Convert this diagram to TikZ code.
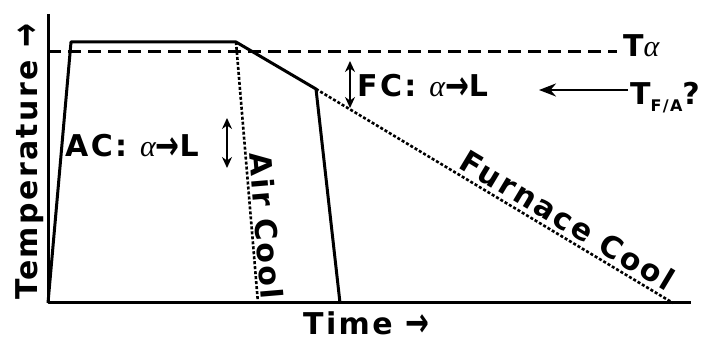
\documentclass[tikz,border=0pt]{standalone}
\usepackage{graphicx}
\usepackage{fontspec}
\setmainfont{DejaVu Sans}
\newfontfamily\lblfont[LetterSpace=8]{DejaVu Sans}
\newfontfamily\greekfont{Liberation Serif}
\usetikzlibrary{arrows.meta}
\newcommand{\alf}{{\greekfont\itshape\mdseries α}}
\newcommand{\rarr}{\raisebox{-2.5pt}{\scalebox{0.95}[1.35]{→}}}
\tikzset{
  curve/.style={line width=3pt,line join=round},
  quench/.style={line width=2.6pt,dash pattern=on 3pt off 2pt},
  transus/.style={line width=3pt,dash pattern=on 13pt off 7pt},
  big/.style={font=\lblfont\bfseries\fontsize{30}{36}\selectfont,inner sep=0pt},
  twoway/.style={line width=2.5pt,>={Stealth[length=11pt,width=10pt]},<->},
  pointer/.style={line width=2.5pt,-{Stealth[length=17pt,width=13pt]}}
}

\begin{document}
\begin{tikzpicture}[x=1pt,y=1pt]
  \useasboundingbox (0,0) rectangle (709,342);
  % axes
  \coordinate (o) at (48,39);
  \coordinate (ytop) at (48,328);
  \coordinate (xend) at (691,39);
  \draw[curve] (ytop) -- (o) -- (xend);
  \node[big,anchor=base west] (timelbl) at (303,7.5) {Time \rarr};
  \node[big,anchor=base west,rotate=90] (templbl) at (37,42) {Temperature \rarr};
  % schedule
  \coordinate (hold) at (71,300);
  \coordinate (cool) at (236,300);
  \coordinate (knee) at (316,253);
  \coordinate (drop) at (340,39);
  \coordinate (acend) at (258,39);
  \coordinate (fcend) at (673,39);
  \draw[curve] (o) -- (hold) -- (cool) -- (knee) -- (drop);
  \draw[quench] (cool) -- node[sloped,above,pos=.71,big,inner sep=2pt] (aclbl) {Air Cool} (acend);
  \draw[quench] (knee) -- node[sloped,above,pos=.68,big,inner sep=4pt] (fclbl) {Furnace Cool} (fcend);
  % alpha transus
  \coordinate (ta0) at (48,290);
  \coordinate (ta1) at (617,290);
  \draw[transus] (ta0) -- (ta1);
  \node[big,anchor=base west] (talpha) at (623,285) {T\alf};
  % transformation ranges
  \node[big,anchor=base west] (acrange) at (65,185) {AC: \alf\rarr L};
  \coordinate (acup) at (227,224);
  \coordinate (acdn) at (227,174);
  \draw[twoway] (acup) -- (acdn);
  \node[big,anchor=base west] (fcrange) at (357,245) {FC: \alf\rarr L};
  \coordinate (fcup) at (350,281);
  \coordinate (fcdn) at (350,234);
  \draw[twoway] (fcup) -- (fcdn);
  \node[big,anchor=base west] (tfa) at (630,237) {T\raisebox{-7pt}{\fontsize{16}{20}\selectfont F/A}?};
  \coordinate (tip) at (539,252);
  \draw[pointer] ([xshift=-2pt]tip -| tfa.west) -- (tip);
\end{tikzpicture}
\end{document}
